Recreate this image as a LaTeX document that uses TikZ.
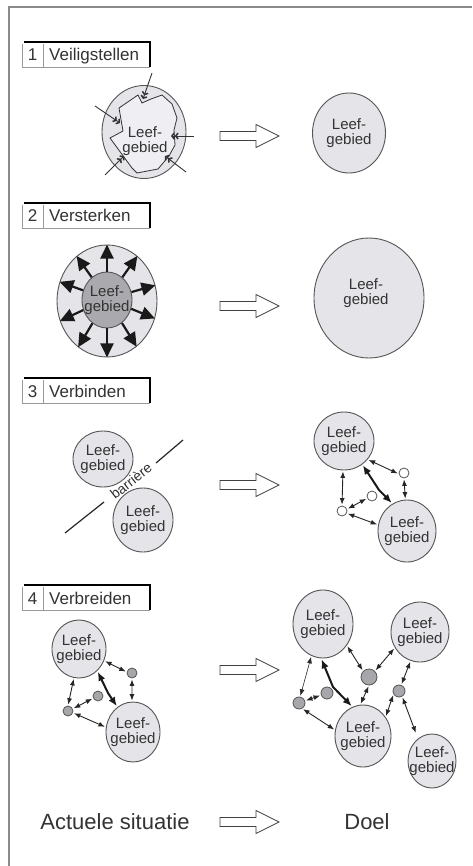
\documentclass[tikz,border=0pt]{standalone}
\usepackage{fontspec}
\setmainfont{Liberation Sans}
\usetikzlibrary{shapes.geometric,arrows.meta}
\definecolor{areafill}{HTML}{E4E4E9}
\definecolor{areadraw}{HTML}{555555}
\definecolor{innerfill}{HTML}{A9A9AE}
\definecolor{polyfill}{HTML}{EEEEF3}
\definecolor{txt}{HTML}{333333}
\definecolor{framec}{HTML}{8A8A8A}
\definecolor{dotgray}{HTML}{A6A6AB}
\begin{document}
\begin{tikzpicture}[x=1pt,y=-1pt,
  area/.style 2 args={ellipse, draw=areadraw, line width=0.9pt, fill=areafill, inner sep=0pt, minimum width=#1, minimum height=#2},
  lt/.style={text=txt, font=\fontsize{15}{14.5}\selectfont, align=center, inner sep=0pt},
  dot/.style={circle, draw=areadraw, line width=0.8pt, fill=white, inner sep=0pt, minimum size=#1},
  gdot/.style={circle, draw=areadraw, line width=0.8pt, fill=dotgray, inner sep=0pt, minimum size=#1},
  dbl/.style={draw=black!85, line width=0.9pt, shorten >=1pt, shorten <=1pt, {Latex[length=6.5pt,width=5pt]}-{Latex[length=6.5pt,width=5pt]}},
  thk/.style={draw=black!90, line width=2pt, shorten >=1pt, shorten <=1pt, {Latex[length=9pt,width=7.5pt]}-{Latex[length=9pt,width=7.5pt]}},
  bigarr/.style={draw=black!90, line width=2.2pt, -{Triangle[length=14pt,width=13pt]}},
  inarr/.style={draw=black!80, line width=0.9pt, -{Straight Barb[length=2.2pt,width=6pt,line width=1.5pt]Straight Barb[length=2.2pt,width=6pt,line width=1.5pt]}},
  fatarrow/.pic={\draw[fill=white, draw=black!75, line width=0.8pt] (0,-4.5) -- (36,-4.5) -- (36,-11.5) -- (59,0) -- (36,11.5) -- (36,4.5) -- (0,4.5) -- cycle;},
  sectxt/.style={text=txt, font=\fontsize{17}{18}\selectfont, inner sep=0pt},
  bigtxt/.style={text=txt, font=\fontsize{22}{24}\selectfont, inner sep=0pt}
]
\useasboundingbox (0,0) rectangle (472,866);
\fill[white] (0,0) rectangle (472,866);
% frame
\draw[framec, line width=1.5pt] (9,866) -- (9,7) -- (472,7);

% section headers
\foreach \T/\n/\t in {42/1/Veiligstellen, 203/2/Versterken, 378/3/Verbinden, 585/4/Verbreiden}{
  \draw[black!40, line width=0.6pt] (22,\T+2) -- (22,\T+25) -- (150,\T+25);
  \draw[black!40, line width=0.6pt] (43,\T+2) -- (43,\T+25);
  \draw[black, line width=2pt] (24,\T) -- (150,\T) -- (150,\T+25);
  \node[sectxt, anchor=base] (num\n) at (32.5,\T+19) {\n};
  \node[sectxt, anchor=base west] (lab\n) at (49,\T+19) {\t};
}

% transition arrows
\foreach \y in {136,306,485,670,822}{
  \pic at (220,\y) {fatarrow};
}

% ---------- 1 Veiligstellen ----------
\node[area={84}{93}] (V1) at (144,132) {};
\draw[fill=polyfill, draw=black!80, line width=0.8pt]
  (119,108) -- (138,95) -- (142,103) -- (151,99) -- (162,95) -- (172,104) -- (177,118)
  -- (174,130) -- (175,145) -- (169,156) -- (158,169) -- (137,173) -- (132,168)
  -- (110,138) -- (123,131) -- cycle;
\node[lt] (V1t) at (145,141) {Leef-\\gebied};
\coordinate (i1a) at (152,73);  \coordinate (i1b) at (143,99);
\coordinate (i2a) at (95,106);  \coordinate (i2b) at (120,123);
\coordinate (i3a) at (194,136); \coordinate (i3b) at (171,136);
\coordinate (i4a) at (105,175); \coordinate (i4b) at (124,156);
\coordinate (i5a) at (186,172); \coordinate (i5b) at (165,156);
\foreach \k in {1,...,5}{\draw[inarr] (i\k a) -- (i\k b);}

\node[area={73}{80}] (D1) at (349,133) {};
\node[lt] at (D1) {Leef-\\gebied};

% ---------- 2 Versterken ----------
\node[area={100}{112}] (O2) at (107,301) {};
\node[area={50}{56}, fill=innerfill] (I2) at (107,300) {};
\node[lt] at (I2) {Leef-\\gebied};
\foreach \a in {90,56,18,-20,-57,-90,-122,-157,158,124}{
  \draw[bigarr] (I2.\a) -- (O2.\a);
}
\node[area={110}{120}] (D2) at (369,298) {};
\node[lt] at (366,293) {Leef-\\gebied};

% ---------- 3 Verbinden ----------
\node[area={60}{56}] (A3) at (103,459) {};
\node[lt] at (A3) {Leef-\\gebied};
\node[area={60}{64}] (B3) at (143,520) {};
\node[lt] at (B3) {Leef-\\gebied};
\coordinate (b1) at (65,533); \coordinate (b2) at (104,502);
\coordinate (b3) at (156,463); \coordinate (b4) at (183,440);
\draw[black!85, line width=1.2pt] (b1) -- (b2) (b3) -- (b4);
\node[text=txt, font=\fontsize{14}{14}\selectfont, inner sep=0pt, rotate=38] (bar) at (131,481) {barrière};

\node[area={60}{58}] (C3) at (344,441) {};
\node[lt] at (C3) {Leef-\\gebied};
\node[area={58}{62}] (E3) at (407,531) {};
\node[lt] at (E3) {Leef-\\gebied};
\node[dot=10pt] (s1) at (404,473) {};
\node[dot=10pt] (s2) at (372,496) {};
\node[dot=10pt] (s3) at (342,511) {};
\coordinate (k3) at (379,490);
\draw[dbl] (C3.-38) -- (s1.190);
\draw[dbl] (s1.-90) -- (E3.93);
\draw[thk] (C3.-52) -- (k3) -- (E3.118);
\draw[dbl] (s2.205) -- (s3.20);
\draw[dbl] (C3.-92) -- (s3.90);
\draw[dbl] (s3.-25) -- (E3.168);

% ---------- 4 Verbreiden ----------
\node[area={54}{58}] (E4) at (79,649) {};
\node[lt] at (E4) {Leef-\\gebied};
\node[area={54}{60}] (F4) at (133,732) {};
\node[lt] at (F4) {Leef-\\gebied};
\node[gdot=10pt] (g1) at (132,673) {};
\node[gdot=10pt] (g2) at (98,696) {};
\node[gdot=10pt] (g3) at (68,711) {};
\coordinate (k4) at (108,693);
\draw[dbl] (E4.-25) -- (g1.170);
\draw[dbl] (g1.-90) -- (F4.92);
\draw[thk] (E4.-50) -- (k4) -- (F4.122);
\draw[dbl] (g2.205) -- (g3.25);
\draw[dbl] (E4.-100) -- (g3.90);
\draw[dbl] (g3.-20) -- (F4.170);

\node[area={60}{68}] (G4) at (323,624) {};
\node[lt] at (G4) {Leef-\\gebied};
\node[area={58}{60}] (H4) at (420,632) {};
\node[lt] at (H4) {Leef-\\gebied};
\node[area={56}{62}] (I4) at (363,736) {};
\node[lt] at (I4) {Leef-\\gebied};
\node[area={48}{54}] (J4) at (432,761) {};
\node[lt] at (J4) {Leef-\\gebied};
\node[gdot=16pt] (m1) at (369,677) {};
\node[gdot=12pt] (m2) at (327,693) {};
\node[gdot=12pt] (m3) at (299,703) {};
\node[gdot=12pt] (m4) at (399,691) {};
\coordinate (k5) at (333,687);
\draw[dbl, line width=0.6pt] (G4.-110) -- (m3.80);
\draw[dbl] (m3.20) -- (m2.200);
\draw[thk] (G4.-93) -- (k5) -- (I4.110);
\draw[dbl] (G4.-42) -- (m1.135);
\draw[dbl] (m1.45) -- (H4.212);
\draw[dbl] (m1.-90) -- (I4.95);
\draw[dbl] (m4.70) -- (H4.-108);
\draw[dbl] (m4.210) -- (I4.40);
\draw[dbl, shorten >=6pt] (m4.-60) -- (J4.122);
\draw[dbl] (m3.-60) -- (I4.168);

% ---------- bottom legend ----------
\node[bigtxt] (act) at (115,822) {Actuele situatie};
\node[bigtxt] (doel) at (367,822) {Doel};
\end{tikzpicture}
\end{document}
